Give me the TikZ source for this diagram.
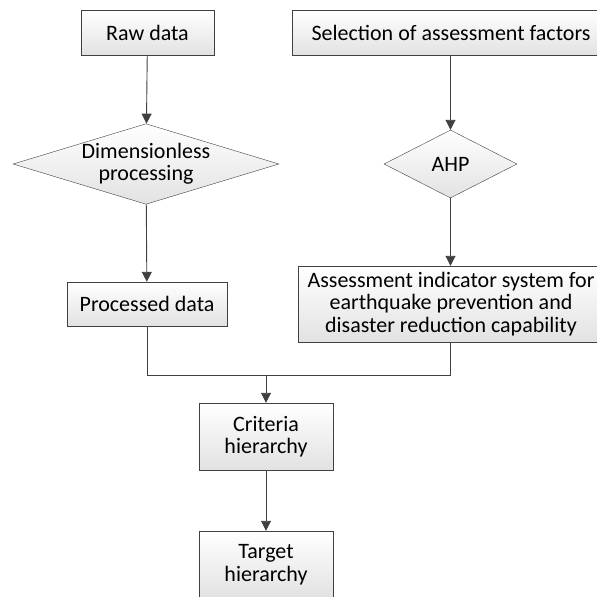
\documentclass[tikz,border=0pt]{standalone}
\usepackage{fontspec}
\setmainfont{Carlito}
\usepackage{tikz}
\usetikzlibrary{shapes.geometric,arrows.meta}

\begin{document}
\begin{tikzpicture}[x=1pt, y=-1pt,
                    box/.style = {
                        draw=lineGray, rectangle, inner sep=1pt, align=center,
                        top color=white, bottom color=fillGray, font=\fontsize{22}{22.5}\selectfont
                    },
                    choice/.style = {
                        draw=lineGray, diamond, inner sep=0pt, align=center,
                        top color=white, bottom color=fillGray, font=\fontsize{22}{22.5}\selectfont
                    },
                    flow/.style = {
                        draw=lineGray, line width=0.9pt, -{Triangle[width=10pt,length=10pt]}
                    },
                    link/.style = {
                        draw=lineGray, line width=0.9pt
                    }
                ]
                    % Colours
                    \definecolor{lineGray}{HTML}{404040}
                    \definecolor{fillGray}{HTML}{E2E2E2}

                    \useasboundingbox (0,0) rectangle (597,597);
                    \clip (0,0) rectangle (597,597);

                    % Nodes
                    \node[box, minimum width=133pt, minimum height=45pt] (raw) at (147.5,32.5) {Raw data};
                    \node[box, minimum width=318pt, minimum height=45pt] (select) at (451,32.5) {Selection of assessment factors};
                    \node[choice, minimum width=265pt, minimum height=80pt, aspect=3.3] (dimless) at (146,164) {Dimensionless\\processing};
                    \node[choice, minimum width=133pt, minimum height=68pt, aspect=2] (ahp) at (450.5,164) {AHP};
                    \node[box, minimum width=160pt, minimum height=44pt] (processed) at (147,304) {Processed data};
                    \node[box, minimum width=306pt, minimum height=76pt] (assess) at (451,304) {Assessment indicator system for\\earthquake prevention and\\disaster reduction capability};
                    \node[box, minimum width=134pt, minimum height=67pt] (criteria) at (266,436.5) {Criteria\\hierarchy};
                    \node[box, minimum width=134pt, minimum height=67pt] (target) at (266,564.5) {Target\\hierarchy};
                    \coordinate (join) at (266,375);

                    % Edges
                    \draw[flow] (raw) -- (dimless);
                    \draw[flow] (dimless) -- (processed);
                    \draw[flow] (select.south -| ahp.north) -- (ahp);
                    \draw[flow] (ahp) -- (assess.north -| ahp.south);
                    \draw[link] (processed) |- (join);
                    \draw[link] (assess.south -| ahp.south) |- (join);
                    \draw[flow] (join) -- (criteria);
                    \draw[flow] (criteria) -- (target);
                \end{tikzpicture}
\end{document}
